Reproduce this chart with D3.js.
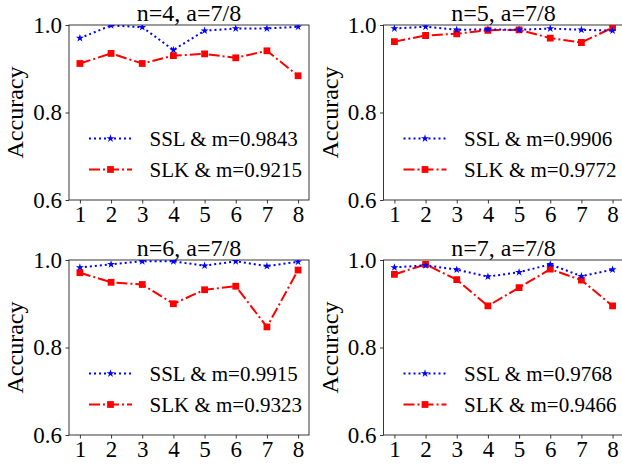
<!DOCTYPE html>
<html>
<head>
<meta charset="utf-8">
<script src="https://cdn.jsdelivr.net/npm/d3@7"></script>
</head>
<body style="margin:0">
<div id="chart"></div>
<script>
// data
const steps = [1, 2, 3, 4, 5, 6, 7, 8];
const yTicks = [0.6, 0.8, 1.0];
const titles = ["n=4, a=7/8", "n=5, a=7/8", "n=6, a=7/8", "n=7, a=7/8"];

const sslN4 = [0.970, 0.999, 0.995, 0.943, 0.987, 0.992, 0.992, 0.996];
const slkN4 = [0.912, 0.935, 0.912, 0.930, 0.934, 0.925, 0.941, 0.884];
const sslN5 = [0.992, 0.996, 0.989, 0.990, 0.989, 0.992, 0.989, 0.987];
const slkN5 = [0.962, 0.976, 0.980, 0.988, 0.989, 0.970, 0.960, 0.994];
const sslN6 = [0.983, 0.990, 0.997, 0.997, 0.987, 0.997, 0.986, 0.996];
const slkN6 = [0.971, 0.949, 0.944, 0.900, 0.932, 0.940, 0.847, 0.977];
const sslN7 = [0.983, 0.988, 0.978, 0.962, 0.972, 0.990, 0.963, 0.978];
const slkN7 = [0.967, 0.990, 0.955, 0.895, 0.937, 0.979, 0.954, 0.895];

const sslMeans = ["0.9843", "0.9906", "0.9915", "0.9768"];
const slkMeans = ["0.9215", "0.9772", "0.9323", "0.9466"];

const sslSeries = [sslN4, sslN5, sslN6, sslN7];
const slkSeries = [slkN4, slkN5, slkN6, slkN7];

// layout
const width = 622, height = 466;
const pw = 240, ph = 175;
const origins = [[69, 25], [383.5, 25], [69, 260], [383.5, 260]];
const font = '"Liberation Serif"';
const blue = "#0000ff", red = "#ff0000";

const svg = d3.select('#chart')
  .append('svg')
  .attr('width', width)
  .attr('height', height);

const x = d3.scaleLinear().domain([0.65, 8.35]).range([0, pw]);
const y = d3.scaleLinear().domain([0.6, 1.0]).range([ph, 0]);

const star = d3.symbol().type(d3.symbolStar).size(20);
const square = d3.symbol().type(d3.symbolSquare).size(46);

origins.forEach(([ox, oy], i) => {
  const g = svg.append('g').attr('transform', `translate(${ox},${oy})`);

  g.append('clipPath').attr('id', `clip${i}`)
    .append('rect').attr('width', pw).attr('height', ph);

  // axes
  const xAxis = g.append('g')
    .attr('transform', `translate(0,${ph})`)
    .call(d3.axisBottom(x).tickValues(steps).tickSize(3.5).tickPadding(2).tickFormat(d3.format('d')));
  const yAxis = g.append('g')
    .call(d3.axisLeft(y).tickValues(yTicks).tickSize(3.5).tickPadding(3.5).tickFormat(d3.format('.1f')));
  [xAxis, yAxis].forEach(a => {
    a.attr('font-family', null).attr('font-size', null);
    a.select('.domain').remove();
    a.selectAll('line').attr('stroke', '#222').attr('stroke-width', 0.9);
    a.selectAll('text')
      .style('font-family', font)
      .style('font-size', '23px')
      .attr('fill', '#000');
  });

  // frame
  g.append('rect')
    .attr('width', pw).attr('height', ph)
    .attr('fill', 'none').attr('stroke', '#222').attr('stroke-width', 0.9);

  // title & y label
  g.append('text')
    .attr('x', pw / 2).attr('y', -4.5)
    .attr('text-anchor', 'middle')
    .style('font-family', font)
    .style('font-size', '24px')
    .text(titles[i]);
  g.append('text')
    .attr('transform', `translate(-46,${ph / 2}) rotate(-90)`)
    .attr('text-anchor', 'middle')
    .style('font-family', font)
    .style('font-size', '24px')
    .text('Accuracy');

  const plot = g.append('g').attr('clip-path', `url(#clip${i})`);
  const line = d3.line().x((d, j) => x(steps[j])).y(d => y(d));

  // SLK
  plot.append('path').datum(slkSeries[i])
    .attr('d', line).attr('fill', 'none')
    .attr('stroke', red).attr('stroke-width', 2)
    .attr('stroke-dasharray', '11,3,2,3');
  plot.selectAll('.sq').data(slkSeries[i]).join('path')
    .attr('transform', (d, j) => `translate(${x(steps[j])},${y(d)})`)
    .attr('d', square).attr('fill', red);

  // SSL
  plot.append('path').datum(sslSeries[i])
    .attr('d', line).attr('fill', 'none')
    .attr('stroke', blue).attr('stroke-width', 2)
    .attr('stroke-dasharray', '2,3');
  plot.selectAll('.st').data(sslSeries[i]).join('path')
    .attr('transform', (d, j) => `translate(${x(steps[j])},${y(d)})`)
    .attr('d', star).attr('fill', blue);

  // legend
  const legend = [
    { color: blue, dash: '2,3', sym: star, label: `SSL & m=${sslMeans[i]}`, ly: 113.5 },
    { color: red, dash: '11,3,2,3', sym: square, label: `SLK & m=${slkMeans[i]}`, ly: 144.5 }
  ];
  legend.forEach(l => {
    g.append('line')
      .attr('x1', 20).attr('x2', 63).attr('y1', l.ly).attr('y2', l.ly)
      .attr('stroke', l.color).attr('stroke-width', 2)
      .attr('stroke-dasharray', l.dash);
    g.append('path')
      .attr('transform', `translate(41.5,${l.ly})`)
      .attr('d', l.sym).attr('fill', l.color);
    g.append('text')
      .attr('x', 80.5).attr('y', l.ly + 7.5)
      .style('font-family', font)
      .style('font-size', '21px')
      .text(l.label);
  });
});
</script>
</body>
</html>
